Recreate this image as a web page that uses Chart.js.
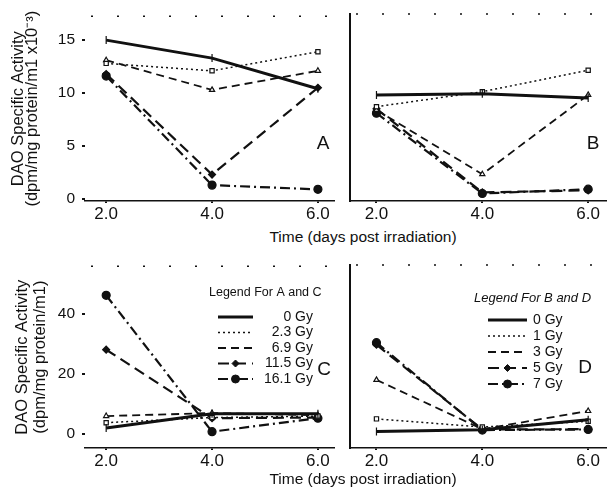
<!DOCTYPE html>
<html>
<head>
<meta charset="utf-8">
<script src="https://cdn.jsdelivr.net/npm/chart.js@4.4.1/dist/chart.umd.min.js"></script>
<style>
  body { margin: 0; background: #fff; font-family: 'Liberation Sans', Arial, sans-serif; color: #111; }
  #page { position: relative; width: 611px; height: 487px; overflow: hidden; }
  canvas { position: absolute; }
  .txt { position: absolute; transform: translate(-50%, -50%); white-space: nowrap; }
  .xtitle { font-size: 15.5px; }
  .letter { font-size: 19px; }
</style>
</head>
<body>
<div id="page">
  <canvas id="chartA" width="339" height="225" style="left:0;top:0"></canvas>
  <canvas id="chartB" width="271" height="225" style="left:340px;top:0"></canvas>
  <canvas id="chartC" width="339" height="226" style="left:0;top:250px"></canvas>
  <canvas id="chartD" width="271" height="226" style="left:340px;top:250px"></canvas>

  <div class="txt xtitle" style="left:363px;top:237px">Time (days post irradiation)</div>
  <div class="txt xtitle" style="left:363px;top:479px">Time (days post irradiation)</div>
  <div class="txt letter" style="left:323px;top:143px">A</div>
  <div class="txt letter" style="left:593px;top:143px">B</div>
  <div class="txt letter" style="left:324px;top:369px">C</div>
  <div class="txt letter" style="left:585px;top:367px">D</div>
</div>

<script>
// --- Data ---
const days = [2, 4, 6];
const xTicks = [2, 4, 6];
const dosesAC = ['0 Gy', '2.3 Gy', '6.9 Gy', '11.5 Gy', '16.1 Gy'];
const dosesBD = ['0 Gy', '1 Gy', '3 Gy', '5 Gy', '7 Gy'];

// one row per dose, values at day 2, 4, 6
const panelA = [
    [15.0, 13.3, 10.4],
    [12.8, 12.1, 13.9],
    [13.1, 10.3, 12.1],
    [11.8, 2.3, 10.5],
    [11.6, 1.3, 0.9]
];
const panelB = [
    [9.7, 9.8, 9.4],
    [8.6, 10.0, 12.0],
    [8.3, 2.3, 9.7],
    [8.4, 0.6, 0.8],
    [8.0, 0.5, 0.9]
];
const panelC = [
    [2.0, 6.8, 6.8],
    [3.8, 5.5, 6.0],
    [6.0, 7.0, 6.3],
    [28.1, 5.3, 5.5],
    [46.2, 0.8, 5.3]
];
const panelD = [
    [0.8, 1.4, 4.7],
    [5.0, 2.3, 4.2],
    [17.9, 1.6, 7.6],
    [29.5, 1.5, 1.6],
    [30.2, 1.3, 1.5]
];
const yTicksTop = [0, 5, 10, 15];
const yTicksBottom = [0, 20, 40];

const INK = '#111';
const FONT = "'Liberation Sans', Arial, sans-serif";

// line look for each dose slot
const looks = [
    { dash: [], width: 3, point: 'line', rot: 90, r: 4, fill: INK },
    { dash: [2, 3], width: 1.5, point: 'rect', rot: 0, r: 3, fill: '#fff' },
    { dash: [8, 5], width: 1.8, point: 'triangle', rot: 0, r: 3, fill: '#fff' },
    { dash: [11, 6], width: 2.2, point: 'rectRot', rot: 0, r: 3.5, fill: INK },
    { dash: [10, 4, 2, 4], width: 2.2, point: 'circle', rot: 0, r: 4, fill: INK }
];

function buildDatasets(rows, labels) {
    return rows.map((vals, i) => {
        const lk = looks[i];
        return {
            label: labels[i],
            data: days.map((d, j) => ({ x: d, y: vals[j] })),
            borderColor: INK,
            borderWidth: lk.width,
            borderDash: lk.dash,
            pointStyle: lk.point,
            pointRotation: lk.rot,
            pointRadius: lk.r,
            pointBorderWidth: 1.2,
            pointBorderColor: INK,
            pointBackgroundColor: lk.fill,
            tension: 0
        };
    });
}

// --- Plugins ---
const frameTop = {
    id: 'frameTop',
    beforeDatasetsDraw(chart) {
        const { ctx, chartArea: a } = chart;
        ctx.save();
        ctx.setLineDash([2, 24]);
        ctx.lineWidth = 1.5;
        ctx.strokeStyle = INK;
        ctx.beginPath();
        ctx.moveTo(a.left + 6, a.top);
        ctx.lineTo(a.right, a.top);
        ctx.stroke();
        ctx.restore();
    }
};

const panelLegend = {
    id: 'panelLegend',
    afterDatasetsDraw(chart, args, opts) {
        if (!opts.title) return;
        const ctx = chart.ctx;
        ctx.save();
        ctx.fillStyle = INK;
        ctx.textBaseline = 'middle';
        ctx.textAlign = 'left';
        ctx.font = opts.titleFont;
        ctx.fillText(opts.title, opts.titleX, opts.titleY);
        chart.data.datasets.forEach((ds, i) => {
            const y = opts.y0 + i * opts.dy;
            ctx.beginPath();
            ctx.setLineDash(ds.borderDash);
            ctx.lineWidth = ds.borderWidth;
            ctx.strokeStyle = ds.borderColor;
            ctx.moveTo(opts.x1, y);
            ctx.lineTo(opts.x2, y);
            ctx.stroke();
            ctx.setLineDash([]);
            if (i >= 3) {
                ctx.fillStyle = ds.pointBackgroundColor;
                ctx.lineWidth = 1;
                Chart.helpers.drawPoint(ctx, { pointStyle: ds.pointStyle, rotation: 0, radius: ds.pointRadius, borderWidth: 1 }, (opts.x1 + opts.x2) / 2, y);
            }
            ctx.fillStyle = INK;
            ctx.font = opts.font;
            ctx.textAlign = opts.align;
            ctx.fillText(ds.label, opts.labelX, y);
        });
        ctx.restore();
    }
};

// --- Chart factory ---
function makePanel(id, cfg) {
    const xScale = {
        type: 'linear',
        min: cfg.xMin, max: cfg.xMax,
        afterFit: s => { s.height = cfg.xHeight; },
        afterBuildTicks: s => { s.ticks = xTicks.map(v => ({ value: v })); },
        ticks: { callback: v => v.toFixed(1), color: INK, padding: 1, maxRotation: 0, font: { family: FONT, size: 17 } },
        grid: { drawOnChartArea: false, tickLength: 2, color: INK, lineWidth: 2 },
        border: { display: true, dash: [2, 24], color: INK, width: 1.5 }
    };
    const yScale = {
        type: 'linear',
        min: cfg.yMin, max: cfg.yMax,
        afterFit: s => { s.width = cfg.yWidth; },
        afterBuildTicks: s => { s.ticks = cfg.yTicks.map(v => ({ value: v })); }
    };
    if (cfg.yTitle) {
        Object.assign(yScale, {
            ticks: { color: INK, padding: 7, font: { family: FONT, size: 15.5 } },
            grid: { drawOnChartArea: false, tickLength: 3, color: INK, lineWidth: 2 },
            border: { display: false },
            title: {
                display: true, text: cfg.yTitle, color: INK,
                font: { family: FONT, size: 16.5, lineHeight: cfg.titleLine },
                padding: { top: cfg.titlePad, bottom: 0 }
            }
        });
    } else {
        Object.assign(yScale, {
            ticks: { display: false },
            grid: { display: false },
            border: { display: true, color: INK, width: 2 }
        });
    }

    return new Chart(document.getElementById(id), {
        type: 'line',
        data: { datasets: buildDatasets(cfg.rows, cfg.labels) },
        options: {
            responsive: false,
            animation: false,
            devicePixelRatio: 1,
            layout: { padding: { top: cfg.padTop, left: 0, right: 0, bottom: 0 } },
            scales: { x: xScale, y: yScale },
            plugins: {
                legend: { display: false },
                tooltip: { enabled: false },
                panelLegend: cfg.legend || {}
            }
        },
        plugins: [frameTop, panelLegend]
    });
}

document.addEventListener('DOMContentLoaded', () => {
    // top row: 10.73 px per unit, bottom row: 3.025 px per unit
    makePanel('chartA', {
        rows: panelA, labels: dosesAC,
        xMin: 1.6, xMax: 6.3, yMin: -0.2, yMax: 17.25, yTicks: yTicksTop,
        yWidth: 85, xHeight: 24, padTop: 14,
        yTitle: ['DAO Specific Activity', '(dpm/mg protein/m1 x10\u207B\u00B3)'],
        titleLine: '13.5px', titlePad: 12
    });
    makePanel('chartB', {
        rows: panelB, labels: dosesBD,
        xMin: 1.5, xMax: 6.333, yMin: -0.2, yMax: 17.25, yTicks: yTicksTop,
        yWidth: 10, xHeight: 24, padTop: 14
    });
    makePanel('chartC', {
        rows: panelC, labels: dosesAC,
        xMin: 1.6, xMax: 6.3, yMin: -4.63, yMax: 55.87, yTicks: yTicksBottom,
        yWidth: 85, xHeight: 28, padTop: 15,
        yTitle: ['DAO Specific Activity', '(dpm/mg protein/m1)'],
        titleLine: '18px', titlePad: 13,
        legend: {
            title: 'Legend For A and C', titleFont: '12.5px ' + FONT, titleX: 209, titleY: 43,
            x1: 218, x2: 253, y0: 67, dy: 15.5,
            font: '14px ' + FONT, align: 'right', labelX: 313
        }
    });
    makePanel('chartD', {
        rows: panelD, labels: dosesBD,
        xMin: 1.5, xMax: 6.333, yMin: -4.63, yMax: 55.87, yTicks: yTicksBottom,
        yWidth: 10, xHeight: 28, padTop: 15,
        legend: {
            title: 'Legend For B and D', titleFont: 'italic 13px ' + FONT, titleX: 134, titleY: 48,
            x1: 148, x2: 187, y0: 70, dy: 16,
            font: '14px ' + FONT, align: 'left', labelX: 193
        }
    });
});
</script>
</body>
</html>
